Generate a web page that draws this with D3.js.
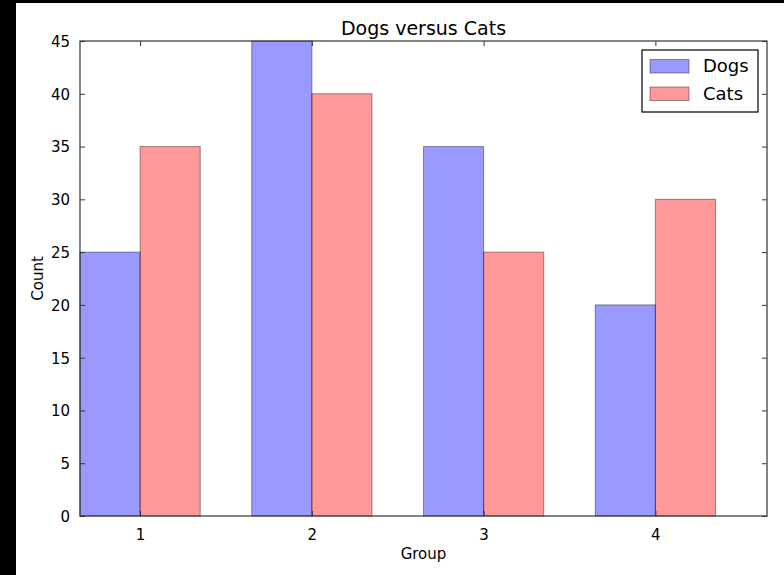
<!DOCTYPE html>
<html>
<head>
<meta charset="utf-8">
<script src="https://cdn.jsdelivr.net/npm/d3@7"></script>
<style>
  html, body { margin: 0; padding: 0; background: #fff; }
  svg { display: block; }
  text { font-family: "DejaVu Sans", sans-serif; fill: #000; }
</style>
</head>
<body>
<svg id="chart" width="784" height="575"></svg>
<script>
// Group labels and counts per animal
const groups = ["1", "2", "3", "4"];
const dogs = [25, 45, 35, 20];
const cats = [35, 40, 25, 30];
const yTicks = [0, 5, 10, 15, 20, 25, 30, 35, 40, 45];
const seriesNames = ["Dogs", "Cats"];
const seriesColors = ["rgba(0,0,255,0.4)", "rgba(255,0,0,0.4)"];
const barWidth = 0.35;

const W = 784, H = 575;
const plot = { left: 80, right: 767, top: 41, bottom: 516 };

const svg = d3.select("#chart");

// dark frame strips along the left and top edge
svg.append("rect").attr("x", 0).attr("y", 0).attr("width", W).attr("height", H).attr("fill", "#fff");
svg.append("rect").attr("x", 0).attr("y", 0).attr("width", 16).attr("height", H).attr("fill", "#000");
svg.append("rect").attr("x", 0).attr("y", 0).attr("width", W).attr("height", 3).attr("fill", "#000");

const x = d3.scaleLinear().domain([0, groups.length]).range([plot.left, plot.right]);
const y = d3.scaleLinear().domain([0, 45]).range([plot.bottom, plot.top]);

// bars: one per group for each series
const series = [dogs, cats];
series.forEach((vals, si) => {
  svg.append("g").selectAll("rect")
    .data(vals)
    .join("rect")
    .attr("x", (d, i) => x(i + si * barWidth))
    .attr("y", d => y(d))
    .attr("width", (d, i) => x(i + (si + 1) * barWidth) - x(i + si * barWidth))
    .attr("height", d => y(0) - y(d))
    .attr("fill", seriesColors[si])
    .attr("stroke", "rgba(0,0,0,0.4)")
    .attr("stroke-width", 1);
});

const tickLen = 5;
const tickPos = groups.map((g, i) => i + barWidth);

// left axis with inward ticks
const yAxisL = d3.axisLeft(y).tickValues(yTicks).tickSize(-tickLen).tickPadding(tickLen + 5);
const gL = svg.append("g").attr("transform", `translate(${plot.left},0)`).call(yAxisL);
gL.selectAll("text").style("font-size", "15px").attr("dy", "0.36em");

// right axis ticks (no labels)
const yAxisR = d3.axisRight(y).tickValues(yTicks).tickSize(-tickLen).tickFormat("");
svg.append("g").attr("transform", `translate(${plot.right},0)`).call(yAxisR);

// bottom axis with group labels
const xAxisB = d3.axisBottom(x).tickValues(tickPos).tickFormat((d, i) => groups[i])
  .tickSize(-tickLen).tickPadding(tickLen + 8);
const gB = svg.append("g").attr("transform", `translate(0,${plot.bottom})`).call(xAxisB);
gB.selectAll("text").style("font-size", "15px");

// top axis ticks
const xAxisT = d3.axisTop(x).tickValues(tickPos).tickSize(-tickLen).tickFormat("");
svg.append("g").attr("transform", `translate(0,${plot.top})`).call(xAxisT);

svg.selectAll(".domain").remove();
svg.selectAll(".tick line").attr("stroke", "#333");

// frame around the plot area
svg.append("rect")
  .attr("x", plot.left).attr("y", plot.top)
  .attr("width", plot.right - plot.left).attr("height", plot.bottom - plot.top)
  .attr("fill", "none").attr("stroke", "#333").attr("stroke-width", 1.2);

// title and axis labels
svg.append("text").attr("x", (plot.left + plot.right) / 2).attr("y", 35)
  .attr("text-anchor", "middle").style("font-size", "19px").text("Dogs versus Cats");
svg.append("text").attr("x", (plot.left + plot.right) / 2).attr("y", 559)
  .attr("text-anchor", "middle").style("font-size", "15px").text("Group");
svg.append("text")
  .attr("transform", `translate(43,${(plot.top + plot.bottom) / 2}) rotate(-90)`)
  .attr("text-anchor", "middle").style("font-size", "15px").text("Count");

// legend
const lg = svg.append("g");
lg.append("rect").attr("x", 642).attr("y", 50).attr("width", 116).attr("height", 62)
  .attr("fill", "#fff").attr("stroke", "#000").attr("stroke-width", 1.2);
seriesNames.forEach((name, i) => {
  const cy = 66 + i * 27.5;
  lg.append("rect").attr("x", 650).attr("y", cy - 6.5).attr("width", 39).attr("height", 13.5)
    .attr("fill", seriesColors[i]).attr("stroke", "rgba(0,0,0,0.4)").attr("stroke-width", 1);
  lg.append("text").attr("x", 703).attr("y", cy).attr("dy", "0.36em")
    .style("font-size", "18px").text(name);
});
</script>
</body>
</html>
